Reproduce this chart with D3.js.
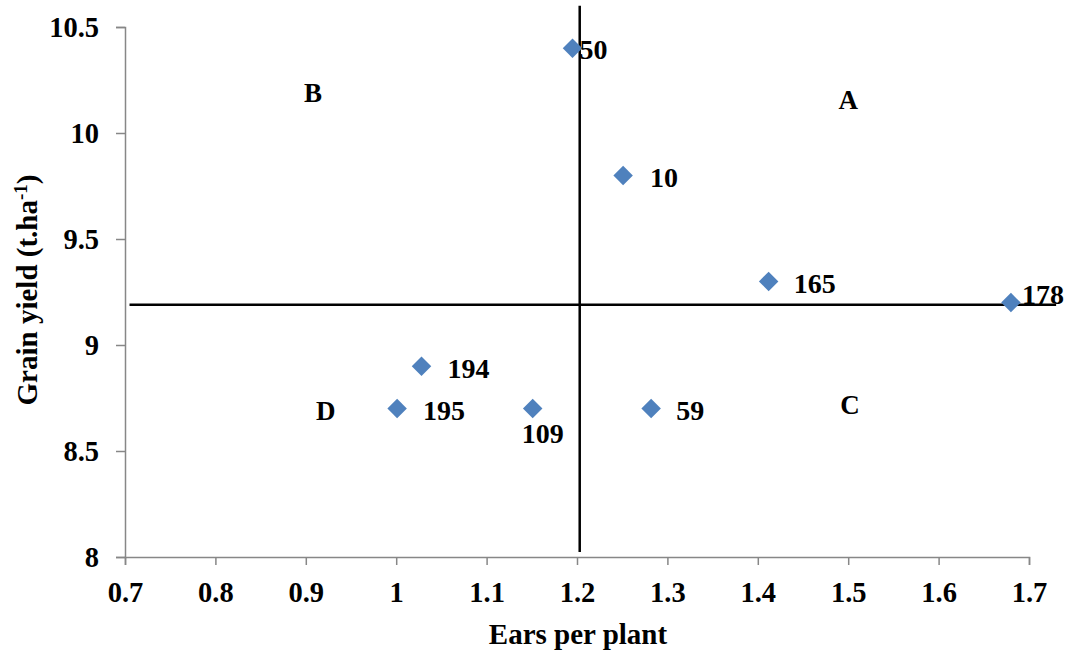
<!DOCTYPE html>
<html>
<head>
<meta charset="utf-8">
<script src="https://cdn.jsdelivr.net/npm/d3@7"></script>
<style>
  html, body { margin: 0; padding: 0; background: #fff; }
  svg { display: block; }
</style>
</head>
<body>
<svg id="chart" width="1066" height="653"></svg>
<script>
// Genotypes: ears per plant vs grain yield
const genotypes   = ["50", "10", "165", "178", "194", "195", "109", "59"];
const earsPerPlant = [1.195, 1.251, 1.412, 1.680, 1.028, 1.001, 1.151, 1.282];
const grainYield   = [10.4, 9.8, 9.3, 9.2, 8.9, 8.7, 8.7, 8.7];

const xTicks = [0.7, 0.8, 0.9, 1.0, 1.1, 1.2, 1.3, 1.4, 1.5, 1.6, 1.7];
const yTicks = [8, 8.5, 9, 9.5, 10, 10.5];

// Quadrant dividers (data units) and their drawn extents
const dividerX = 1.203;
const dividerY = 9.19;
const dividerXSpan = [8.024, 10.6];
const dividerYSpan = [0.705, 1.73];

// Quadrant letters, placed in data units
const quadrantNames = ["A", "B", "C", "D"];
const quadrantX = [1.50, 0.908, 1.502, 0.922];
const quadrantY = [10.16, 10.19, 8.72, 8.69];

const serif = '"Liberation Serif", "Times New Roman", serif';
const svg = d3.select("#chart")
  .style("font-family", serif)
  .style("font-weight", "bold");

const x = d3.scaleLinear().domain([0.7, 1.7]).range([125, 1029]);
const y = d3.scaleLinear().domain([8, 10.5]).range([557, 27]);

const fmt = d => (d === 1 ? "1" : d3.format("")(+d.toFixed(1)));
const axisGrey = "#878787";

function styleText(sel, size) {
  return sel.attr("font-family", null).attr("font-size", null)
    .style("font-family", serif).style("font-weight", "bold")
    .style("font-size", size + "px").attr("fill", "#000");
}

// x axis
const gx = svg.append("g")
  .attr("transform", `translate(0,${y(8)})`)
  .call(d3.axisBottom(x).tickValues(xTicks).tickSize(8).tickFormat(fmt));
gx.attr("font-family", null).attr("font-size", null);
gx.select(".domain").attr("stroke", axisGrey).attr("stroke-width", 1.5);
gx.selectAll(".tick line").attr("stroke", axisGrey).attr("stroke-width", 1.5);
styleText(gx.selectAll(".tick text"), 28.5).attr("y", 35).attr("dy", "0.35em");

// y axis
const gy = svg.append("g")
  .attr("transform", `translate(${x(0.7)},0)`)
  .call(d3.axisLeft(y).tickValues(yTicks).tickSize(9).tickFormat(d => d3.format("")(d)));
gy.attr("font-family", null).attr("font-size", null);
gy.select(".domain").attr("stroke", axisGrey).attr("stroke-width", 1.5);
gy.selectAll(".tick line").attr("stroke", axisGrey).attr("stroke-width", 1.5);
styleText(gy.selectAll(".tick text"), 28.5).attr("x", -26).attr("dy", "0.35em");

// Quadrant dividers
svg.append("line")
  .attr("x1", x(dividerX)).attr("x2", x(dividerX))
  .attr("y1", y(dividerXSpan[1])).attr("y2", y(dividerXSpan[0]))
  .attr("stroke", "#000").attr("stroke-width", 2.5);
svg.append("line")
  .attr("x1", x(dividerYSpan[0])).attr("x2", x(dividerYSpan[1]))
  .attr("y1", y(dividerY)).attr("y2", y(dividerY))
  .attr("stroke", "#000").attr("stroke-width", 2.5);

// Points
const pts = genotypes.map((g, i) => ({ g, ex: earsPerPlant[i], gy: grainYield[i] }));
const diamond = d3.symbol().type(d3.symbolSquare).size(190);
svg.append("g").selectAll("path")
  .data(pts).join("path")
  .attr("d", diamond)
  .attr("transform", d => `translate(${x(d.ex)},${y(d.gy)}) rotate(45)`)
  .attr("fill", "#4F81BD");

// Point labels (pixel offsets from each marker)
const labelOffset = {
  "50":  { dx: 7,  dy: 1,   anchor: "start" },
  "10":  { dx: 27, dy: 2,   anchor: "start" },
  "165": { dx: 25, dy: 2,   anchor: "start" },
  "178": { dx: 11, dy: -8,  anchor: "start" },
  "194": { dx: 26, dy: 2,   anchor: "start" },
  "195": { dx: 26, dy: 2,   anchor: "start" },
  "109": { dx: 10, dy: 25,  anchor: "middle" },
  "59":  { dx: 25, dy: 2,   anchor: "start" }
};
styleText(svg.append("g").selectAll("text")
  .data(pts).join("text"), 28)
  .attr("x", d => x(d.ex) + labelOffset[d.g].dx)
  .attr("y", d => y(d.gy) + labelOffset[d.g].dy)
  .attr("dy", "0.35em")
  .attr("text-anchor", d => labelOffset[d.g].anchor)
  .text(d => d.g);

// Quadrant letters
styleText(svg.append("g").selectAll("text")
  .data(quadrantNames).join("text"), 27)
  .attr("x", (d, i) => x(quadrantX[i]))
  .attr("y", (d, i) => y(quadrantY[i]))
  .attr("dy", "0.35em")
  .attr("text-anchor", "middle")
  .text(d => d);

// Axis titles
styleText(svg.append("text"), 29)
  .attr("x", 578).attr("y", 634).attr("dy", "0.35em")
  .attr("text-anchor", "middle")
  .text("Ears per plant");

const yt = styleText(svg.append("text"), 29)
  .attr("transform", "translate(27,290) rotate(-90)")
  .attr("dy", "0.35em")
  .attr("text-anchor", "middle");
yt.append("tspan").text("Grain yield (t.ha");
yt.append("tspan").attr("baseline-shift", "super").style("font-size", "19px").text("-1");
yt.append("tspan").text(")");
</script>
</body>
</html>
